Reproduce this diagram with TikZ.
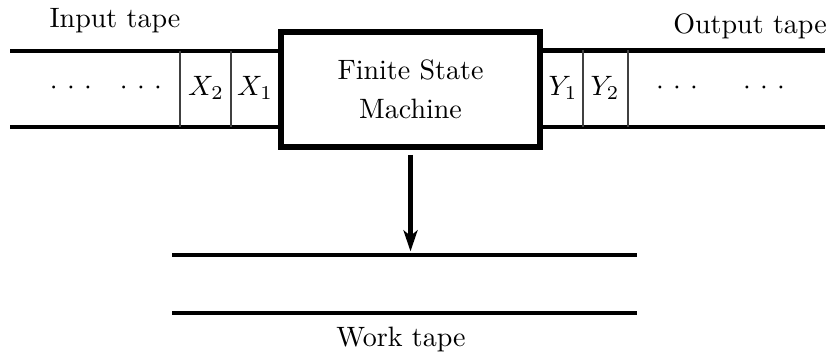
\documentclass[tikz,border=0pt]{standalone}
\usetikzlibrary{arrows.meta}
\begin{document}
\begin{tikzpicture}[x=0.3568pt,y=-0.3568pt,
  tapeline/.style={line width=1.45pt},
  cellwall/.style={line width=0.6pt,black!75},
  machinebox/.style={draw,line width=2.1pt,minimum width=92.4pt,minimum height=41pt,
    inner sep=0pt,align=center},
  label/.style={inner sep=0pt},
  dotgroup/.style={inner sep=0pt,anchor=base},
  headarrow/.style={line width=1.45pt,-{Stealth[length=7.5pt,width=5pt,inset=2pt]}}]
  \useasboundingbox (0,0) rectangle (830,354);

  % finite state machine
  \node[machinebox] (fsm) at (410.5,89.5) {Finite State\\[1.9pt]Machine};

  % input tape
  \coordinate (inTL) at (10,51.3);
  \coordinate (inBL) at (10,126.8);
  \draw[tapeline] (inTL) -- (inTL -| fsm.west);
  \draw[tapeline] (inBL) -- (inBL -| fsm.west);
  \coordinate (inD1) at (180,51.3);
  \coordinate (inD2) at (230.7,51.3);
  \draw[cellwall] (inD1) -- (inD1 |- inBL);
  \draw[cellwall] (inD2) -- (inD2 |- inBL);
  \node[label] (x2) at (206,88) {$X_2$};
  \node[label] (x1) at (255,88) {$X_1$};
  \node[dotgroup] (indotsA) at (71,94.3) {${\cdot}\ {\cdot}\ {\cdot}$};
  \node[dotgroup] (indotsB) at (141,94.3) {${\cdot}\ {\cdot}\ {\cdot}$};
  \node[label,anchor=base] (intape) at (115,28) {Input tape};

  % output tape
  \coordinate (outTR) at (825,50.5);
  \coordinate (outBR) at (825,126.8);
  \draw[tapeline] (outTR -| fsm.east) -- (outTR);
  \draw[tapeline] (outBR -| fsm.east) -- (outBR);
  \coordinate (outD1) at (582.7,50.5);
  \coordinate (outD2) at (627.7,50.5);
  \draw[cellwall] (outD1) -- (outD1 |- outBR);
  \draw[cellwall] (outD2) -- (outD2 |- outBR);
  \node[label] (y1) at (563,88) {$Y_1$};
  \node[label] (y2) at (605,88) {$Y_2$};
  \node[dotgroup] (outdotsA) at (677,94.3) {${\cdot}\ {\cdot}\ {\cdot}$};
  \node[dotgroup] (outdotsB) at (764,94.3) {${\cdot}\ {\cdot}\ {\cdot}$};
  \node[label,anchor=base] (outtape) at (750,34) {Output tape};

  % work tape
  \coordinate (wTL) at (172,255.3);
  \coordinate (wTR) at (637,255.3);
  \coordinate (wBL) at (172,312.7);
  \coordinate (wBR) at (637,312.7);
  \draw[tapeline] (wTL) -- (wTR);
  \draw[tapeline] (wBL) -- (wBR);
  \node[label,anchor=base] (worktape) at (401,347) {Work tape};

  % head movement onto the work tape
  \draw[headarrow,shorten <=5pt*0.3568,shorten >=1.4pt] (fsm.south) -- (fsm.south |- wTL);
\end{tikzpicture}
\end{document}
